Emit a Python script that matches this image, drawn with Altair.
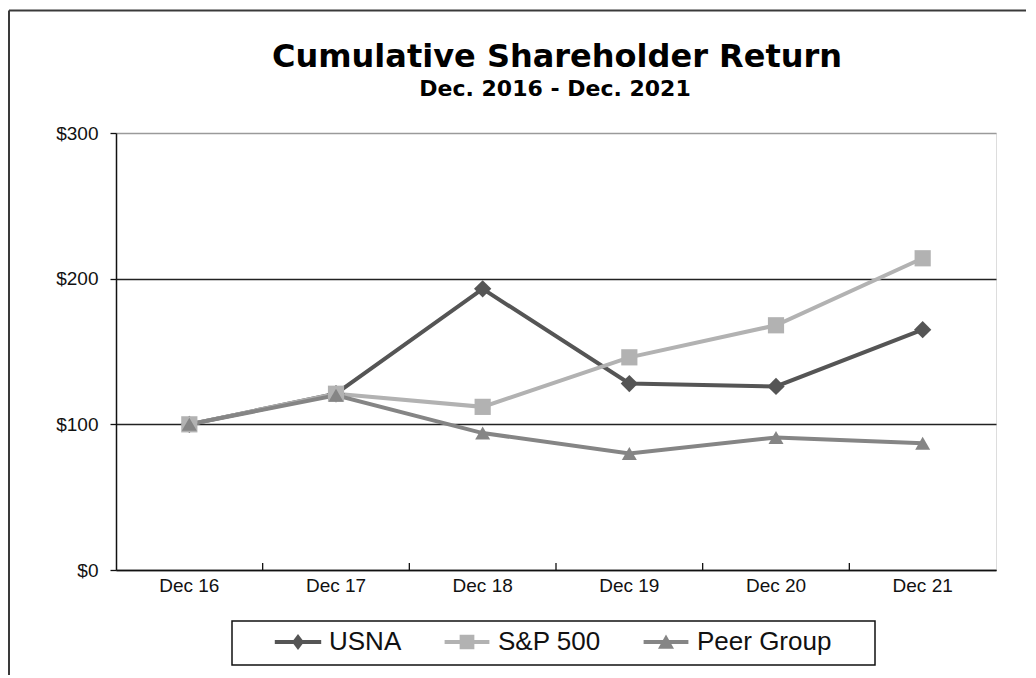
import altair as alt
import pandas as pd

# ---- data ----
categories = ["Dec 16", "Dec 17", "Dec 18", "Dec 19", "Dec 20", "Dec 21"]
series_names = ["USNA", "S&P 500", "Peer Group"]
usna = [100, 121, 193, 128, 126, 165]
sp500 = [100, 121, 112, 146, 168, 214]
peer = [100, 120, 94, 80, 91, 87]
y_ticks = [0, 100, 200, 300]
title_text = "Cumulative Shareholder Return"
subtitle_text = "Dec. 2016 - Dec. 2021"

colors = ["#555555", "#b2b2b2", "#858585"]
shapes = ["diamond", "square", "triangle-up"]
sizes = [300, 225, 300]
# legend symbols: line segment + marker (custom paths)
legend_shapes = [
    "M-2.9,-0.25H2.9V0.25H-2.9Z M0,-1L0.75,0L0,1L-0.75,0Z",
    "M-2.8,-0.25H2.8V0.25H-2.8Z M-0.92,-0.92H0.92V0.92H-0.92Z",
    "M-2.8,-0.25H2.8V0.25H-2.8Z M0,-0.95L1,0.85H-1Z",
]

rows = []
for name, vals in zip(series_names, [usna, sp500, peer]):
    for c, v in zip(categories, vals):
        rows.append({"cat": c, "series": name, "legend": name, "value": v})
df = pd.DataFrame(rows)

W, H = 880, 437
PB = 105
FONT = "Liberation Sans"

xscale = alt.Scale(type="band", domain=categories, paddingInner=0, paddingOuter=0)
yscale = alt.Scale(domain=[0, 300], nice=False)

x_enc = alt.X(
    "cat:N",
    scale=xscale,
    sort=categories,
    axis=alt.Axis(
        title=None, labelAngle=0, labelAlign="center", labelFlush=False,
        ticks=False, labelPadding=15,
        labelFontSize=19, labelFont=FONT, labelColor="#111111",
        domainColor="#111111", domainWidth=1.5, grid=False,
    ),
)
y_enc = alt.Y(
    "value:Q",
    scale=yscale,
    axis=alt.Axis(
        title=None, values=y_ticks, format="$,.0f", labelFontSize=19,
        labelFont=FONT, labelColor="#111111", labelPadding=12,
        tickSize=6, tickColor="#111111", tickWidth=1.3,
        domainColor="#111111", domainWidth=1.5,
        grid=True,
        gridColor=alt.condition("datum.value == 300", alt.value("#9a9a9a"), alt.value("#222222")),
        gridWidth=1.3,
    ),
)

base = alt.Chart(df)

lines = base.mark_line(strokeWidth=4).encode(
    x=x_enc,
    y=y_enc,
    color=alt.Color("series:N", scale=alt.Scale(domain=series_names, range=colors), legend=None),
    order=alt.Order("cat:N"),
    detail="series:N",
)

points = base.mark_point(filled=True, opacity=1).encode(
    x=alt.X("cat:N", scale=xscale, sort=categories),
    y=alt.Y("value:Q", scale=yscale),
    color=alt.Color("series:N", scale=alt.Scale(domain=series_names, range=colors), legend=None),
    shape=alt.Shape("series:N", scale=alt.Scale(domain=series_names, range=shapes), legend=None),
    size=alt.Size("series:N", scale=alt.Scale(domain=series_names, range=sizes), legend=None),
)

# inner tick marks at category boundaries
inner_ticks = base.transform_filter(
    "datum.series == 'USNA' && datum.cat != 'Dec 16'"
).mark_rule(color="#111111", strokeWidth=1.3).encode(
    x=alt.X("cat:N", scale=xscale, sort=categories, bandPosition=0),
    y=alt.value(H),
    y2=alt.value(H - 7),
)

one = alt.Chart(pd.DataFrame({"a": [0]}))

# outer chart frame (left and top edges)
frame_left = one.mark_rule(color="#3a3a3a", strokeWidth=2).encode(
    x=alt.value(-107), y=alt.value(-122.5), y2=alt.value(H + PB)
)
frame_top = one.mark_rule(color="#3a3a3a", strokeWidth=2).encode(
    x=alt.value(-107), x2=alt.value(W + 40), y=alt.value(-122.5)
)

# titles
title_mark = one.mark_text(
    text=title_text, font="DejaVu Sans", fontSize=32, fontWeight="bold",
    color="#000000", align="center", baseline="alphabetic",
).encode(x=alt.value(W / 2 + 1), y=alt.value(-66))
subtitle_mark = one.mark_text(
    text=subtitle_text, font="DejaVu Sans", fontSize=22, fontWeight="bold",
    color="#000000", align="center", baseline="alphabetic",
).encode(x=alt.value(W / 2 - 1), y=alt.value(-37.5))

# legend box
legend_box = one.mark_rect(fill="white", stroke="#111111", strokeWidth=1.5).encode(
    x=alt.value(116), x2=alt.value(759), y=alt.value(488), y2=alt.value(532)
)

legend_layer = base.transform_filter("false").mark_point(filled=True, opacity=1, size=256).encode(
    x=alt.X("cat:N", scale=xscale, sort=categories),
    y=alt.Y("value:Q", scale=yscale),
    color=alt.Color(
        "legend:N",
        scale=alt.Scale(domain=series_names, range=colors),
        legend=alt.Legend(
            orient="none", legendX=169, legendY=496, direction="horizontal",
            title=None, symbolSize=256, symbolStrokeWidth=0, symbolOpacity=1,
            labelFontSize=26, labelFont=FONT, labelColor="#111111",
            labelOffset=18, columnPadding=42, padding=0,
        ),
    ),
    shape=alt.Shape("legend:N", scale=alt.Scale(domain=series_names, range=legend_shapes)),
)

chart = alt.layer(
    legend_box, inner_ticks, lines, points, legend_layer,
    frame_left, frame_top, title_mark, subtitle_mark
).resolve_scale(
    color="independent", shape="independent", size="independent"
).properties(
    width=W,
    height=H,
    autosize=alt.AutoSizeParams(type="none"),
    padding={"left": 108, "top": 125, "right": 30, "bottom": PB},
).configure_view(
    stroke="#9a9a9a", strokeWidth=1.5
).configure(background="white")

chart.save("out.html", embed_options={"renderer": "svg", "actions": False})
